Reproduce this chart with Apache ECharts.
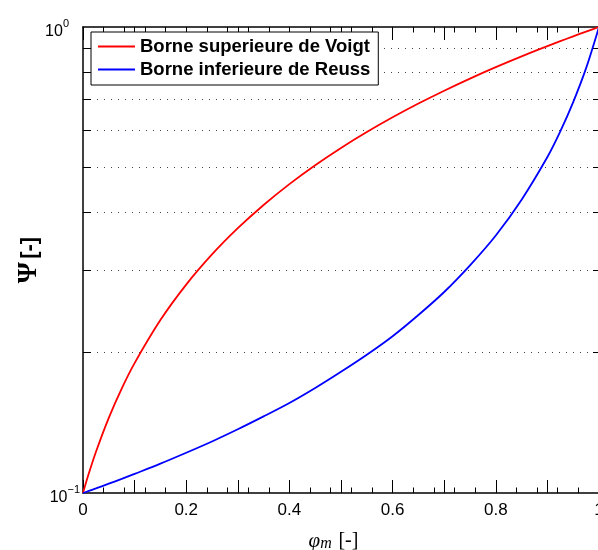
<!DOCTYPE html>
<html>
<head>
<meta charset="utf-8">
<script src="https://cdn.jsdelivr.net/npm/echarts@6/dist/echarts.min.js"></script>
<style>
html,body{margin:0;padding:0;background:#fff;}
#chart{width:598px;height:550px;}
</style>
</head>
<body>
<div id="chart"></div>
<script>
// Volume fraction phi_m (x) and the two bounds of Psi (y)
var phi = [0, 0.01, 0.025, 0.05, 0.075, 0.1, 0.15, 0.2, 0.25, 0.3, 0.35, 0.4, 0.45, 0.5,
           0.55, 0.6, 0.65, 0.7, 0.75, 0.8, 0.85, 0.9, 0.925, 0.95, 0.975, 1];
var voigt = [0.1, 0.109, 0.1225, 0.145, 0.1675, 0.19, 0.235, 0.28, 0.325, 0.37, 0.415, 0.46, 0.505, 0.55,
             0.595, 0.64, 0.685, 0.73, 0.775, 0.82, 0.865, 0.91, 0.9325, 0.955, 0.9775, 1.0];
var reuss = [0.1, 0.1009, 0.1023, 0.1047, 0.1072, 0.1099, 0.1156, 0.122, 0.129, 0.137, 0.146, 0.156, 0.168, 0.182,
             0.198, 0.217, 0.241, 0.270, 0.308, 0.357, 0.426, 0.526, 0.597, 0.690, 0.816, 1.0];
var seriesNames = ['Borne superieure de Voigt', 'Borne inferieure de Reuss'];
var xTickLabels = ['0', '0.2', '0.4', '0.6', '0.8', '1'];
var yMinorTicks = [0.2, 0.3, 0.4, 0.5, 0.6, 0.7, 0.8, 0.9];

function pairs(xs, ys) { return xs.map(function (x, i) { return [x, ys[i]]; }); }
var minorLog = yMinorTicks.map(function (v) { return Math.log10(v); });

var chart = echarts.init(document.getElementById('chart'), null, {renderer: 'canvas'});
var black = '#000';
var SANS = 'Liberation Sans, Arial, Helvetica, sans-serif';
var SERIF = 'Liberation Serif, DejaVu Serif, serif';

function xAxisDef(pos, interval, len, main) {
  return {
    type: 'value', min: 0, max: 1, position: pos, interval: interval,
    splitLine: {show: false},
    axisLine: {show: main, onZero: false, lineStyle: {color: black, width: 1.5}},
    axisTick: {show: true, inside: true, length: len, lineStyle: {color: black, width: 1}},
    axisLabel: main && pos === 'bottom' ? {
      show: true, color: black, fontSize: 17, fontFamily: SANS, margin: 9,
      formatter: function (v) {
        var k = Math.round(v * 10);
        return k % 2 === 0 ? xTickLabels[k / 2] : '';
      }
    } : {show: false}
  };
}

var option = {
  backgroundColor: '#fff',
  animation: false,
  grid: {left: 83, top: 27, width: 516, height: 466, outerBoundsMode: 'none', containLabel: false},
  legend: {
    orient: 'vertical', left: 91, top: 32,
    backgroundColor: '#fff', borderColor: black, borderWidth: 1,
    padding: [5, 8, 6, 7], itemGap: 4, itemWidth: 37, itemHeight: 2,
    icon: 'rect',
    textStyle: {color: black, fontSize: 18.5, fontWeight: 'bold', fontFamily: SANS},
    data: seriesNames
  },
  xAxis: [
    Object.assign(xAxisDef('bottom', 0.1, 13, true), {
      name: '{i|φ}{s|m}  {r|[-]}',
      nameLocation: 'middle', nameGap: 37, nameMoveOverlap: false,
      nameTextStyle: {
        padding: [0, 15, 0, 0],
        rich: {
          i: {fontFamily: SERIF, fontStyle: 'italic', fontSize: 21, color: black},
          s: {fontFamily: SERIF, fontStyle: 'italic', fontSize: 16, color: black, padding: [6, 0, 0, 0]},
          r: {fontFamily: SERIF, fontSize: 20, color: black}
        }
      }
    }),
    xAxisDef('bottom', 0.04, 5.5, false),
    xAxisDef('top', 0.1, 13, true),
    xAxisDef('top', 0.04, 5.5, false)
  ],
  yAxis: [
    {
      type: 'log', logBase: 10, min: 0.1, max: 1, position: 'left',
      axisLine: {show: true, onZero: false, lineStyle: {color: black, width: 1.5}},
      axisTick: {show: false},
      splitLine: {show: false},
      minorTick: {show: false},
      axisLabel: {
        show: true, margin: 3,
        formatter: function (v) {
          return v >= 0.99 ? '{b|10}{z|0}' : '{b|10}{s|−1}';
        },
        rich: {
          b: {fontSize: 16, color: black, fontFamily: SANS, padding: [9, 0, 0, 0]},
          s: {fontSize: 11, color: black, fontFamily: SANS, padding: [0, 0, 6, 0]},
          z: {fontSize: 11, color: black, fontFamily: SANS, padding: [0, 11, 6, 0]}
        }
      },
      name: '{p|Ψ} {r|[-]}',
      nameLocation: 'middle', nameGap: 40, nameRotate: 90, nameMoveOverlap: false,
      nameTextStyle: {
        rich: {
          p: {fontFamily: SERIF, fontWeight: 'bold', fontSize: 27, color: black},
          r: {fontFamily: SANS, fontWeight: 'bold', fontSize: 22, color: black}
        }
      }
    },
    {
      type: 'value', min: -1, max: 0, position: 'left',
      axisLine: {show: false},
      axisLabel: {show: false},
      axisTick: {show: true, inside: true, length: 8, customValues: minorLog, lineStyle: {color: black, width: 1}},
      splitLine: {show: true, lineStyle: {color: '#444', width: 1, type: [1, 6]}}
    },
    {
      type: 'value', min: -1, max: 0, position: 'right',
      axisLine: {show: true, onZero: false, lineStyle: {color: black, width: 1.5}},
      axisLabel: {show: false},
      axisTick: {show: true, inside: true, length: 6, customValues: minorLog, lineStyle: {color: black, width: 1}},
      splitLine: {show: false}
    }
  ],
  series: [
    {
      name: seriesNames[0], type: 'line', xAxisIndex: 0, yAxisIndex: 0,
      data: pairs(phi, voigt), smooth: 0.3, symbol: 'none', clip: true,
      lineStyle: {color: '#ff0000', width: 1.8}, itemStyle: {color: '#ff0000'}, z: 5
    },
    {
      name: seriesNames[1], type: 'line', xAxisIndex: 0, yAxisIndex: 0,
      data: pairs(phi, reuss), smooth: 0.3, symbol: 'none', clip: true,
      lineStyle: {color: '#0000ff', width: 1.8}, itemStyle: {color: '#0000ff'}, z: 5
    }
  ]
};
chart.setOption(option);
</script>
</body>
</html>
